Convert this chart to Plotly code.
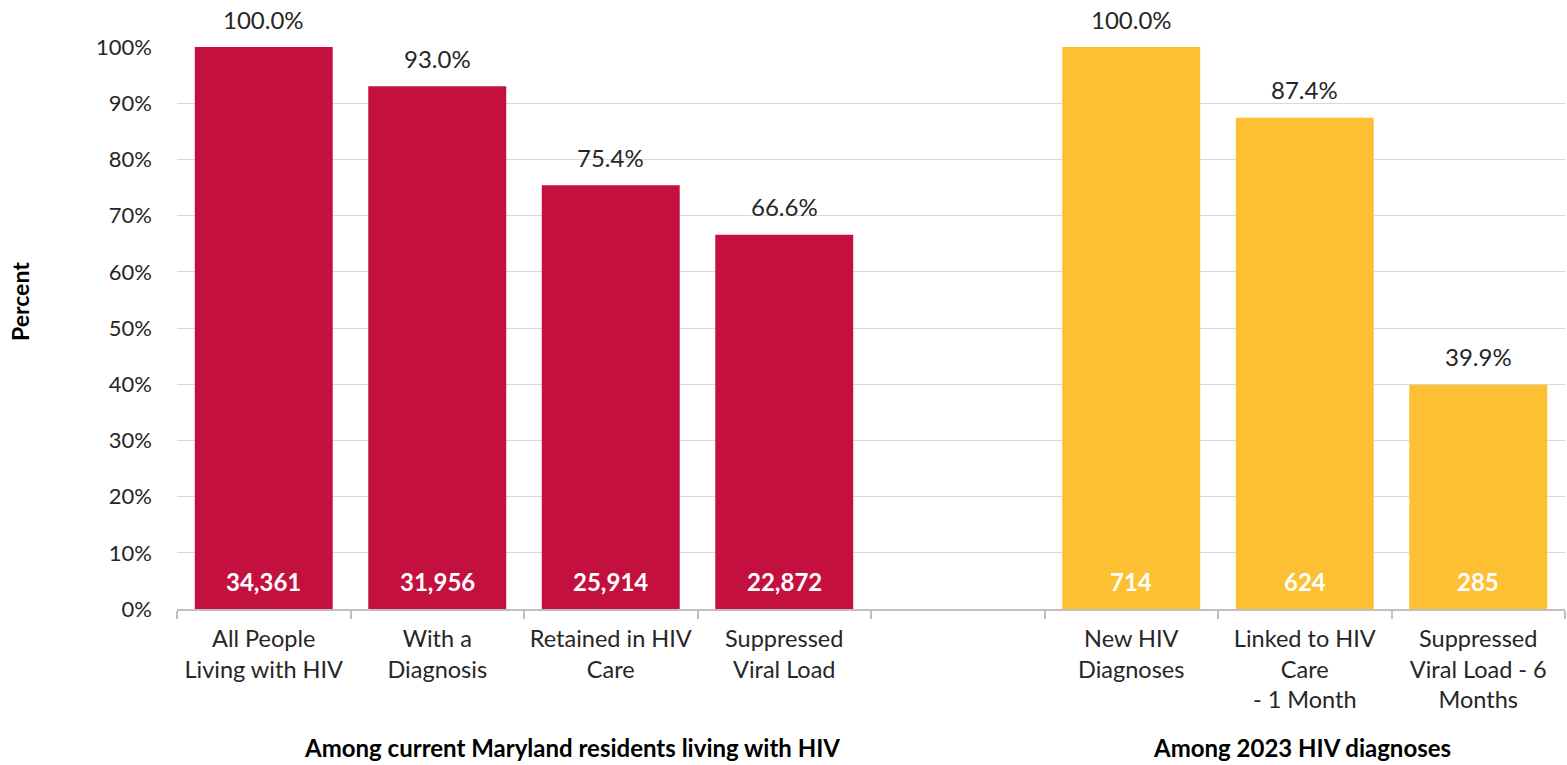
import plotly.graph_objects as go

categories = ["All People<br>Living with HIV", "With a<br>Diagnosis", "Retained in HIV<br>Care",
              "Suppressed<br>Viral Load", " ", "New HIV<br>Diagnoses", "Linked to HIV<br>Care<br>- 1 Month",
              "Suppressed<br>Viral Load - 6<br>Months"]
red_cats = categories[:4]
red_pct = [100.0, 93.0, 75.4, 66.6]
red_counts = ["34,361", "31,956", "25,914", "22,872"]
yel_cats = categories[5:]
yel_pct = [100.0, 87.4, 39.9]
yel_counts = ["714", "624", "285"]
group_labels = ["Among current Maryland residents living with HIV", "Among 2023 HIV diagnoses"]
y_ticks = list(range(0, 101, 10))

RED = "#C3103F"
YEL = "#FDC033"
FONT = "Lato, 'Open Sans', sans-serif"

L, R, T, B = 177, 2, 47, 156
W, H = 1567, 765
pw = W - L - R
ph = H - T - B

fig = go.Figure()
for cats, pct, cnt, col in [(red_cats, red_pct, red_counts, RED), (yel_cats, yel_pct, yel_counts, YEL)]:
    fig.add_trace(go.Bar(
        x=cats, y=pct, marker=dict(color=col, line=dict(width=0)),
        hoverinfo="skip", showlegend=False, width=0.795,
    ))
    for c, p, n in zip(cats, pct, cnt):
        fig.add_annotation(x=c, y=p, text=f"{p:.1f}%", showarrow=False, yshift=28,
                           font=dict(size=24, color="#262626", family=FONT))
        fig.add_annotation(x=c, y=0, text=n, showarrow=False, yshift=28,
                           font=dict(size=24, color="white", family=FONT, weight="bold"))

def px_to_paper_x(px):
    return (px - L) / pw

def px_to_paper_y(py):
    return (H - B - py) / ph

for txt, cx in zip(group_labels, [572, 1302]):
    fig.add_annotation(x=px_to_paper_x(cx), xref="paper", xanchor="center",
                       y=px_to_paper_y(747), yref="paper", yanchor="middle",
                       text=txt, showarrow=False,
                       font=dict(size=24, color="black", family=FONT, weight="bold"))

fig.add_annotation(x=px_to_paper_x(20), xref="paper", xanchor="center",
                   y=px_to_paper_y(302), yref="paper", yanchor="middle",
                   text="Percent", textangle=-90, showarrow=False,
                   font=dict(size=23, color="black", family=FONT, weight="bold"))

fig.update_layout(
    width=W, height=H, margin=dict(l=L, r=R, t=T, b=B),
    plot_bgcolor="white", paper_bgcolor="white",
    font=dict(family=FONT, color="#262626", size=20),
    bargap=0.2,
    xaxis=dict(type="category", categoryorder="array", categoryarray=categories,
               tickson="boundaries", ticks="outside", ticklen=8, tickcolor="#BFBFBF", tickwidth=1.5,
               showline=True, linecolor="#BFBFBF", linewidth=1.5, showgrid=False,
               tickangle=0, automargin=False,
               tickfont=dict(size=23.5, color="#262626", family=FONT), ticklabelstandoff=8),
    yaxis=dict(range=[0, 100], tickvals=y_ticks, ticktext=[f"{v}%" for v in y_ticks],
               showgrid=True, gridcolor="#D9D9D9", gridwidth=1.2, zeroline=False, automargin=False,
               tickfont=dict(size=22, color="#262626", family=FONT), ticks="", ticklabelstandoff=24),
)

fig.write_html("out.html")
